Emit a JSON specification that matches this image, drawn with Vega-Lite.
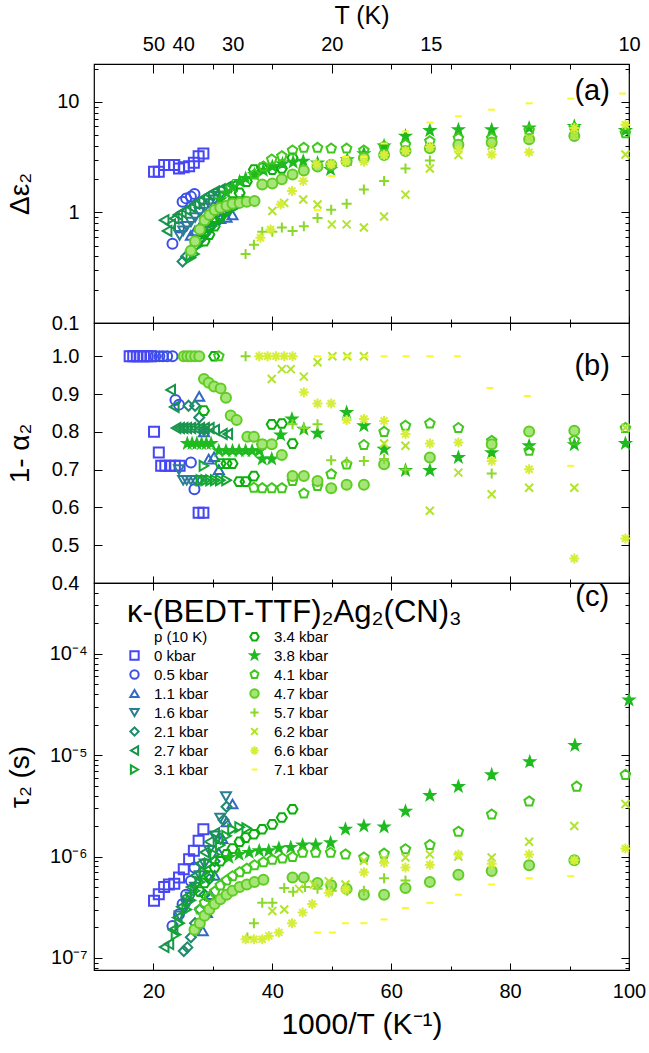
{
"$schema":"https://vega.github.io/schema/vega-lite/v6.json",
"background":"white",
"padding":{"left":5,"top":2,"right":5,"bottom":2},
"spacing":0,
"bounds":"flush",
"datasets":{
"lab":[{"g":"a","t":"(a)","x":93.8,"y":12.5},{"g":"b","t":"(b)","x":93.8,"y":0.975},{"g":"c","t":"(c)","x":93.8,"y":0.00036}],
"pts":[
{"g":"a","p":"0 kbar","x":20.1,"y":2.33},{"g":"a","p":"0 kbar","x":20.9,"y":2.33},{"g":"a","p":"0 kbar","x":21.8,"y":2.68},{"g":"a","p":"0 kbar","x":22.6,"y":2.68},{"g":"a","p":"0 kbar","x":23.5,"y":2.68},{"g":"a","p":"0 kbar","x":24.3,"y":2.5},{"g":"a","p":"0 kbar","x":25.1,"y":2.56},{"g":"a","p":"0 kbar","x":26.0,"y":2.62},{"g":"a","p":"0 kbar","x":26.8,"y":2.81},{"g":"a","p":"0 kbar","x":27.6,"y":3.23},{"g":"a","p":"0 kbar","x":28.4,"y":3.41},
{"g":"a","p":"0.5 kbar","x":23.2,"y":0.52},{"g":"a","p":"0.5 kbar","x":24.3,"y":0.73},{"g":"a","p":"0.5 kbar","x":24.9,"y":1.25},{"g":"a","p":"0.5 kbar","x":25.5,"y":1.34},{"g":"a","p":"0.5 kbar","x":26.3,"y":1.39},{"g":"a","p":"0.5 kbar","x":26.9,"y":1.47},
{"g":"a","p":"1.1 kbar","x":26.3,"y":0.62},{"g":"a","p":"1.1 kbar","x":27.0,"y":0.68},{"g":"a","p":"1.1 kbar","x":27.8,"y":0.74},{"g":"a","p":"1.1 kbar","x":28.6,"y":0.8},{"g":"a","p":"1.1 kbar","x":29.4,"y":0.83},{"g":"a","p":"1.1 kbar","x":30.3,"y":0.86},{"g":"a","p":"1.1 kbar","x":31.25,"y":0.88},{"g":"a","p":"1.1 kbar","x":32.3,"y":0.9},{"g":"a","p":"1.1 kbar","x":33.3,"y":0.95},
{"g":"a","p":"1.6 kbar","x":24.4,"y":0.62},{"g":"a","p":"1.6 kbar","x":25.0,"y":0.68},{"g":"a","p":"1.6 kbar","x":25.6,"y":0.75},{"g":"a","p":"1.6 kbar","x":26.3,"y":0.82},{"g":"a","p":"1.6 kbar","x":27.0,"y":0.9},{"g":"a","p":"1.6 kbar","x":27.8,"y":1.0},{"g":"a","p":"1.6 kbar","x":28.6,"y":1.1},{"g":"a","p":"1.6 kbar","x":29.4,"y":1.2},{"g":"a","p":"1.6 kbar","x":30.3,"y":1.3},{"g":"a","p":"1.6 kbar","x":31.25,"y":1.4},
{"g":"a","p":"2.1 kbar","x":24.9,"y":0.36},{"g":"a","p":"2.1 kbar","x":25.5,"y":0.4},{"g":"a","p":"2.1 kbar","x":26.3,"y":0.45},{"g":"a","p":"2.1 kbar","x":27.0,"y":0.5},{"g":"a","p":"2.1 kbar","x":27.8,"y":0.56},{"g":"a","p":"2.1 kbar","x":28.6,"y":0.63},{"g":"a","p":"2.1 kbar","x":29.4,"y":0.72},{"g":"a","p":"2.1 kbar","x":30.3,"y":0.82},{"g":"a","p":"2.1 kbar","x":31.25,"y":0.95},{"g":"a","p":"2.1 kbar","x":32.3,"y":1.1},
{"g":"a","p":"2.7 kbar","x":21.8,"y":0.85},{"g":"a","p":"2.7 kbar","x":22.3,"y":0.68},{"g":"a","p":"2.7 kbar","x":22.9,"y":0.78},{"g":"a","p":"2.7 kbar","x":23.5,"y":0.88},{"g":"a","p":"2.7 kbar","x":24.1,"y":0.95},{"g":"a","p":"2.7 kbar","x":24.7,"y":1.0},{"g":"a","p":"2.7 kbar","x":25.5,"y":1.05},{"g":"a","p":"2.7 kbar","x":26.3,"y":1.12},{"g":"a","p":"2.7 kbar","x":27.0,"y":1.2},{"g":"a","p":"2.7 kbar","x":27.8,"y":1.28},{"g":"a","p":"2.7 kbar","x":28.6,"y":1.37},{"g":"a","p":"2.7 kbar","x":29.4,"y":1.45},{"g":"a","p":"2.7 kbar","x":30.3,"y":1.55},{"g":"a","p":"2.7 kbar","x":31.25,"y":1.62},{"g":"a","p":"2.7 kbar","x":32.3,"y":1.7},{"g":"a","p":"2.7 kbar","x":33.3,"y":1.75},
{"g":"a","p":"3.1 kbar","x":26.3,"y":0.39},{"g":"a","p":"3.1 kbar","x":26.9,"y":0.42},{"g":"a","p":"3.1 kbar","x":27.5,"y":0.5},{"g":"a","p":"3.1 kbar","x":28.2,"y":0.58},{"g":"a","p":"3.1 kbar","x":29.0,"y":0.66},{"g":"a","p":"3.1 kbar","x":29.8,"y":0.75},{"g":"a","p":"3.1 kbar","x":30.6,"y":0.84},{"g":"a","p":"3.1 kbar","x":31.5,"y":0.92},{"g":"a","p":"3.1 kbar","x":32.3,"y":1.0},{"g":"a","p":"3.1 kbar","x":33.3,"y":1.08},{"g":"a","p":"3.1 kbar","x":34.5,"y":1.18},{"g":"a","p":"3.1 kbar","x":35.7,"y":1.28},
{"g":"a","p":"3.4 kbar","x":28.6,"y":0.55},{"g":"a","p":"3.4 kbar","x":29.4,"y":0.63},{"g":"a","p":"3.4 kbar","x":30.3,"y":0.75},{"g":"a","p":"3.4 kbar","x":31.25,"y":0.9},{"g":"a","p":"3.4 kbar","x":32.3,"y":1.05},{"g":"a","p":"3.4 kbar","x":33.3,"y":1.25},{"g":"a","p":"3.4 kbar","x":34.5,"y":1.5},{"g":"a","p":"3.4 kbar","x":35.7,"y":1.9},{"g":"a","p":"3.4 kbar","x":36.9,"y":2.44},{"g":"a","p":"3.4 kbar","x":38.3,"y":2.53},{"g":"a","p":"3.4 kbar","x":40.0,"y":2.44},{"g":"a","p":"3.4 kbar","x":41.6,"y":2.5},{"g":"a","p":"3.4 kbar","x":43.4,"y":3.12},
{"g":"a","p":"3.8 kbar","x":31.25,"y":1.3},{"g":"a","p":"3.8 kbar","x":32.3,"y":1.5},{"g":"a","p":"3.8 kbar","x":33.3,"y":1.7},{"g":"a","p":"3.8 kbar","x":34.5,"y":1.9},{"g":"a","p":"3.8 kbar","x":35.5,"y":2.03},{"g":"a","p":"3.8 kbar","x":37.0,"y":2.2},{"g":"a","p":"3.8 kbar","x":38.5,"y":2.4},{"g":"a","p":"3.8 kbar","x":40.0,"y":2.6},{"g":"a","p":"3.8 kbar","x":41.7,"y":2.75},{"g":"a","p":"3.8 kbar","x":43.5,"y":2.85},{"g":"a","p":"3.8 kbar","x":45.2,"y":2.91},{"g":"a","p":"3.8 kbar","x":47.6,"y":2.8},{"g":"a","p":"3.8 kbar","x":49.8,"y":2.44},{"g":"a","p":"3.8 kbar","x":52.6,"y":3.0},{"g":"a","p":"3.8 kbar","x":55.4,"y":3.4},{"g":"a","p":"3.8 kbar","x":58.8,"y":4.0},{"g":"a","p":"3.8 kbar","x":62.4,"y":4.9},{"g":"a","p":"3.8 kbar","x":66.5,"y":5.5},{"g":"a","p":"3.8 kbar","x":71.3,"y":5.6},{"g":"a","p":"3.8 kbar","x":76.9,"y":5.6},{"g":"a","p":"3.8 kbar","x":83.2,"y":5.8},{"g":"a","p":"3.8 kbar","x":90.8,"y":6.0},{"g":"a","p":"3.8 kbar","x":99.4,"y":5.5},
{"g":"a","p":"4.1 kbar","x":37.0,"y":2.2},{"g":"a","p":"4.1 kbar","x":38.5,"y":2.6},{"g":"a","p":"4.1 kbar","x":39.9,"y":3.01},{"g":"a","p":"4.1 kbar","x":41.6,"y":3.23},{"g":"a","p":"4.1 kbar","x":43.4,"y":3.63},{"g":"a","p":"4.1 kbar","x":45.3,"y":3.84},{"g":"a","p":"4.1 kbar","x":47.6,"y":3.84},{"g":"a","p":"4.1 kbar","x":49.9,"y":3.78},{"g":"a","p":"4.1 kbar","x":52.5,"y":3.78},{"g":"a","p":"4.1 kbar","x":55.4,"y":3.63},{"g":"a","p":"4.1 kbar","x":58.8,"y":3.97},{"g":"a","p":"4.1 kbar","x":62.4,"y":4.1},{"g":"a","p":"4.1 kbar","x":66.5,"y":4.4},{"g":"a","p":"4.1 kbar","x":71.3,"y":4.7},{"g":"a","p":"4.1 kbar","x":76.9,"y":4.7},{"g":"a","p":"4.1 kbar","x":83.2,"y":5.5},{"g":"a","p":"4.1 kbar","x":90.8,"y":5.8},{"g":"a","p":"4.1 kbar","x":99.4,"y":5.2},
{"g":"a","p":"4.7 kbar","x":26.3,"y":0.45},{"g":"a","p":"4.7 kbar","x":27.0,"y":0.55},{"g":"a","p":"4.7 kbar","x":27.8,"y":0.7},{"g":"a","p":"4.7 kbar","x":28.6,"y":0.85},{"g":"a","p":"4.7 kbar","x":29.4,"y":0.95},{"g":"a","p":"4.7 kbar","x":30.3,"y":1.05},{"g":"a","p":"4.7 kbar","x":31.25,"y":1.1},{"g":"a","p":"4.7 kbar","x":32.3,"y":1.15},{"g":"a","p":"4.7 kbar","x":33.3,"y":1.2},{"g":"a","p":"4.7 kbar","x":34.5,"y":1.22},{"g":"a","p":"4.7 kbar","x":35.7,"y":1.25},{"g":"a","p":"4.7 kbar","x":37.0,"y":1.27},{"g":"a","p":"4.7 kbar","x":38.3,"y":1.79},{"g":"a","p":"4.7 kbar","x":40.0,"y":1.83},{"g":"a","p":"4.7 kbar","x":41.6,"y":2.0},{"g":"a","p":"4.7 kbar","x":43.4,"y":2.2},{"g":"a","p":"4.7 kbar","x":45.3,"y":2.4},{"g":"a","p":"4.7 kbar","x":47.6,"y":2.6},{"g":"a","p":"4.7 kbar","x":49.9,"y":2.7},{"g":"a","p":"4.7 kbar","x":52.5,"y":2.9},{"g":"a","p":"4.7 kbar","x":55.4,"y":3.1},{"g":"a","p":"4.7 kbar","x":58.8,"y":3.3},{"g":"a","p":"4.7 kbar","x":62.4,"y":3.6},{"g":"a","p":"4.7 kbar","x":66.5,"y":3.8},{"g":"a","p":"4.7 kbar","x":71.3,"y":4.1},{"g":"a","p":"4.7 kbar","x":76.9,"y":4.3},{"g":"a","p":"4.7 kbar","x":83.2,"y":4.6},{"g":"a","p":"4.7 kbar","x":90.8,"y":4.9},
{"g":"a","p":"5.7 kbar","x":35.5,"y":0.42},{"g":"a","p":"5.7 kbar","x":36.9,"y":0.51},{"g":"a","p":"5.7 kbar","x":38.3,"y":0.67},{"g":"a","p":"5.7 kbar","x":40.0,"y":0.67},{"g":"a","p":"5.7 kbar","x":41.6,"y":0.73},{"g":"a","p":"5.7 kbar","x":43.4,"y":0.68},{"g":"a","p":"5.7 kbar","x":45.3,"y":0.75},{"g":"a","p":"5.7 kbar","x":47.6,"y":0.89},{"g":"a","p":"5.7 kbar","x":49.9,"y":1.06},{"g":"a","p":"5.7 kbar","x":52.5,"y":1.2},{"g":"a","p":"5.7 kbar","x":55.4,"y":1.61},{"g":"a","p":"5.7 kbar","x":58.8,"y":1.92},{"g":"a","p":"5.7 kbar","x":62.4,"y":2.5},{"g":"a","p":"5.7 kbar","x":66.5,"y":2.95},
{"g":"a","p":"6.2 kbar","x":40.0,"y":1.03},{"g":"a","p":"6.2 kbar","x":42.0,"y":1.22},{"g":"a","p":"6.2 kbar","x":45.2,"y":1.31},{"g":"a","p":"6.2 kbar","x":47.6,"y":1.18},{"g":"a","p":"6.2 kbar","x":50.0,"y":0.78},{"g":"a","p":"6.2 kbar","x":52.5,"y":0.78},{"g":"a","p":"6.2 kbar","x":55.4,"y":0.73},{"g":"a","p":"6.2 kbar","x":58.8,"y":0.92},{"g":"a","p":"6.2 kbar","x":62.4,"y":1.45},{"g":"a","p":"6.2 kbar","x":66.5,"y":2.5},{"g":"a","p":"6.2 kbar","x":71.3,"y":3.3},{"g":"a","p":"6.2 kbar","x":76.9,"y":4.0},{"g":"a","p":"6.2 kbar","x":83.2,"y":4.7},{"g":"a","p":"6.2 kbar","x":90.8,"y":5.0},{"g":"a","p":"6.2 kbar","x":99.4,"y":3.34},
{"g":"a","p":"6.6 kbar","x":38.0,"y":0.59},{"g":"a","p":"6.6 kbar","x":39.7,"y":0.7},{"g":"a","p":"6.6 kbar","x":41.4,"y":1.18},{"g":"a","p":"6.6 kbar","x":43.3,"y":1.56},{"g":"a","p":"6.6 kbar","x":45.2,"y":1.92},{"g":"a","p":"6.6 kbar","x":47.4,"y":2.75},{"g":"a","p":"6.6 kbar","x":49.9,"y":2.75},{"g":"a","p":"6.6 kbar","x":52.3,"y":2.87},{"g":"a","p":"6.6 kbar","x":55.4,"y":2.87},{"g":"a","p":"6.6 kbar","x":58.8,"y":3.3},{"g":"a","p":"6.6 kbar","x":62.4,"y":3.6},{"g":"a","p":"6.6 kbar","x":66.5,"y":3.9},{"g":"a","p":"6.6 kbar","x":71.3,"y":3.7},{"g":"a","p":"6.6 kbar","x":76.9,"y":3.34},{"g":"a","p":"6.6 kbar","x":83.2,"y":3.5},{"g":"a","p":"6.6 kbar","x":90.8,"y":5.8},{"g":"a","p":"6.6 kbar","x":99.4,"y":6.2},
{"g":"a","p":"7.1 kbar","x":47.6,"y":1.05},{"g":"a","p":"7.1 kbar","x":50.0,"y":2.13},{"g":"a","p":"7.1 kbar","x":52.3,"y":3.18},{"g":"a","p":"7.1 kbar","x":55.4,"y":3.18},{"g":"a","p":"7.1 kbar","x":58.8,"y":4.2},{"g":"a","p":"7.1 kbar","x":62.4,"y":5.4},{"g":"a","p":"7.1 kbar","x":66.5,"y":6.5},{"g":"a","p":"7.1 kbar","x":71.3,"y":7.4},{"g":"a","p":"7.1 kbar","x":76.9,"y":8.5},{"g":"a","p":"7.1 kbar","x":83.2,"y":9.7},{"g":"a","p":"7.1 kbar","x":90.2,"y":10.7},{"g":"a","p":"7.1 kbar","x":98.9,"y":11.9},

{"g":"b","p":"0 kbar","x":16.0,"y":1},{"g":"b","p":"0 kbar","x":16.6,"y":1},{"g":"b","p":"0 kbar","x":17.2,"y":1},{"g":"b","p":"0 kbar","x":17.8,"y":1},{"g":"b","p":"0 kbar","x":18.4,"y":1},{"g":"b","p":"0 kbar","x":19.0,"y":1},{"g":"b","p":"0 kbar","x":19.6,"y":1},{"g":"b","p":"0 kbar","x":20.1,"y":0.8},{"g":"b","p":"0 kbar","x":20.9,"y":0.745},{"g":"b","p":"0 kbar","x":21.3,"y":0.71},{"g":"b","p":"0 kbar","x":22.0,"y":0.71},{"g":"b","p":"0 kbar","x":22.8,"y":0.71},{"g":"b","p":"0 kbar","x":23.6,"y":0.71},{"g":"b","p":"0 kbar","x":24.4,"y":0.71},{"g":"b","p":"0 kbar","x":27.6,"y":0.586},{"g":"b","p":"0 kbar","x":28.4,"y":0.586},
{"g":"b","p":"0.5 kbar","x":20.3,"y":1},{"g":"b","p":"0.5 kbar","x":21.0,"y":1},{"g":"b","p":"0.5 kbar","x":21.6,"y":1},{"g":"b","p":"0.5 kbar","x":22.3,"y":1},{"g":"b","p":"0.5 kbar","x":23.2,"y":1},{"g":"b","p":"0.5 kbar","x":23.7,"y":0.884},{"g":"b","p":"0.5 kbar","x":24.3,"y":0.872},{"g":"b","p":"0.5 kbar","x":26.3,"y":0.719},{"g":"b","p":"0.5 kbar","x":26.9,"y":0.648},
{"g":"b","p":"1.1 kbar","x":27.7,"y":0.894},{"g":"b","p":"1.1 kbar","x":28.5,"y":0.8},{"g":"b","p":"1.1 kbar","x":29.3,"y":0.728},{"g":"b","p":"1.1 kbar","x":30.2,"y":0.734},{"g":"b","p":"1.1 kbar","x":31.0,"y":0.7},
{"g":"b","p":"1.6 kbar","x":24.3,"y":0.7},{"g":"b","p":"1.6 kbar","x":25.0,"y":0.672},{"g":"b","p":"1.6 kbar","x":25.6,"y":0.672},{"g":"b","p":"1.6 kbar","x":26.3,"y":0.672},{"g":"b","p":"1.6 kbar","x":27.0,"y":0.672},{"g":"b","p":"1.6 kbar","x":27.8,"y":0.672},
{"g":"b","p":"2.1 kbar","x":25.9,"y":0.869},{"g":"b","p":"2.1 kbar","x":27.0,"y":0.869},{"g":"b","p":"2.1 kbar","x":27.7,"y":0.838},{"g":"b","p":"2.1 kbar","x":28.5,"y":0.805},
{"g":"b","p":"2.7 kbar","x":22.9,"y":0.911},{"g":"b","p":"2.7 kbar","x":23.5,"y":0.866},{"g":"b","p":"2.7 kbar","x":23.8,"y":0.81},{"g":"b","p":"2.7 kbar","x":24.4,"y":0.81},{"g":"b","p":"2.7 kbar","x":25.0,"y":0.81},{"g":"b","p":"2.7 kbar","x":25.6,"y":0.81},{"g":"b","p":"2.7 kbar","x":26.3,"y":0.81},{"g":"b","p":"2.7 kbar","x":27.0,"y":0.81},{"g":"b","p":"2.7 kbar","x":27.8,"y":0.81},{"g":"b","p":"2.7 kbar","x":28.6,"y":0.81},{"g":"b","p":"2.7 kbar","x":29.4,"y":0.81},{"g":"b","p":"2.7 kbar","x":30.3,"y":0.805},{"g":"b","p":"2.7 kbar","x":31.6,"y":0.794},{"g":"b","p":"2.7 kbar","x":32.5,"y":0.794},
{"g":"b","p":"3.1 kbar","x":28.5,"y":0.71},{"g":"b","p":"3.1 kbar","x":28.0,"y":0.672},{"g":"b","p":"3.1 kbar","x":28.8,"y":0.672},{"g":"b","p":"3.1 kbar","x":29.6,"y":0.672},{"g":"b","p":"3.1 kbar","x":30.4,"y":0.672},{"g":"b","p":"3.1 kbar","x":31.25,"y":0.672},{"g":"b","p":"3.1 kbar","x":32.3,"y":0.672},
{"g":"b","p":"3.4 kbar","x":28.5,"y":0.856},{"g":"b","p":"3.4 kbar","x":30.2,"y":1},{"g":"b","p":"3.4 kbar","x":31.3,"y":0.716},{"g":"b","p":"3.4 kbar","x":32.3,"y":0.716},{"g":"b","p":"3.4 kbar","x":33.3,"y":0.716},{"g":"b","p":"3.4 kbar","x":34.4,"y":0.668},{"g":"b","p":"3.4 kbar","x":35.5,"y":0.668},{"g":"b","p":"3.4 kbar","x":36.9,"y":0.683},{"g":"b","p":"3.4 kbar","x":38.3,"y":0.767},{"g":"b","p":"3.4 kbar","x":39.9,"y":0.82},{"g":"b","p":"3.4 kbar","x":41.6,"y":0.822},{"g":"b","p":"3.4 kbar","x":43.4,"y":0.769},
{"g":"b","p":"3.8 kbar","x":25.7,"y":0.769},{"g":"b","p":"3.8 kbar","x":26.5,"y":0.769},{"g":"b","p":"3.8 kbar","x":27.3,"y":0.769},{"g":"b","p":"3.8 kbar","x":28.1,"y":0.769},{"g":"b","p":"3.8 kbar","x":28.9,"y":0.769},{"g":"b","p":"3.8 kbar","x":29.7,"y":0.769},{"g":"b","p":"3.8 kbar","x":31.0,"y":0.75},{"g":"b","p":"3.8 kbar","x":32.2,"y":0.75},{"g":"b","p":"3.8 kbar","x":33.3,"y":0.75},{"g":"b","p":"3.8 kbar","x":34.4,"y":0.75},{"g":"b","p":"3.8 kbar","x":35.5,"y":0.75},{"g":"b","p":"3.8 kbar","x":36.6,"y":0.75},{"g":"b","p":"3.8 kbar","x":37.8,"y":0.75},{"g":"b","p":"3.8 kbar","x":38.3,"y":0.728},{"g":"b","p":"3.8 kbar","x":39.9,"y":0.728},{"g":"b","p":"3.8 kbar","x":41.4,"y":0.792},{"g":"b","p":"3.8 kbar","x":43.3,"y":0.834},{"g":"b","p":"3.8 kbar","x":45.3,"y":0.807},{"g":"b","p":"3.8 kbar","x":47.6,"y":0.796},{"g":"b","p":"3.8 kbar","x":52.5,"y":0.851},{"g":"b","p":"3.8 kbar","x":55.4,"y":0.816},{"g":"b","p":"3.8 kbar","x":58.8,"y":0.754},{"g":"b","p":"3.8 kbar","x":62.4,"y":0.698},{"g":"b","p":"3.8 kbar","x":66.5,"y":0.698},{"g":"b","p":"3.8 kbar","x":71.3,"y":0.732},{"g":"b","p":"3.8 kbar","x":76.9,"y":0.745},{"g":"b","p":"3.8 kbar","x":83.2,"y":0.763},{"g":"b","p":"3.8 kbar","x":90.8,"y":0.766},{"g":"b","p":"3.8 kbar","x":99.4,"y":0.769},
{"g":"b","p":"4.1 kbar","x":31.0,"y":1},{"g":"b","p":"4.1 kbar","x":36.9,"y":0.652},{"g":"b","p":"4.1 kbar","x":38.3,"y":0.651},{"g":"b","p":"4.1 kbar","x":39.9,"y":0.651},{"g":"b","p":"4.1 kbar","x":41.6,"y":0.651},{"g":"b","p":"4.1 kbar","x":43.4,"y":0.67},{"g":"b","p":"4.1 kbar","x":45.3,"y":0.637},{"g":"b","p":"4.1 kbar","x":47.6,"y":0.657},{"g":"b","p":"4.1 kbar","x":49.9,"y":0.688},{"g":"b","p":"4.1 kbar","x":52.5,"y":0.714},{"g":"b","p":"4.1 kbar","x":55.4,"y":0.765},{"g":"b","p":"4.1 kbar","x":58.8,"y":0.8},{"g":"b","p":"4.1 kbar","x":62.4,"y":0.816},{"g":"b","p":"4.1 kbar","x":66.5,"y":0.822},{"g":"b","p":"4.1 kbar","x":71.3,"y":0.81},{"g":"b","p":"4.1 kbar","x":76.9,"y":0.776},{"g":"b","p":"4.1 kbar","x":83.2,"y":0.75},{"g":"b","p":"4.1 kbar","x":90.8,"y":0.778},{"g":"b","p":"4.1 kbar","x":99.4,"y":0.81},
{"g":"b","p":"4.7 kbar","x":25.1,"y":1},{"g":"b","p":"4.7 kbar","x":25.7,"y":1},{"g":"b","p":"4.7 kbar","x":26.3,"y":1},{"g":"b","p":"4.7 kbar","x":27.0,"y":1},{"g":"b","p":"4.7 kbar","x":27.7,"y":1},{"g":"b","p":"4.7 kbar","x":28.5,"y":0.94},{"g":"b","p":"4.7 kbar","x":29.3,"y":0.93},{"g":"b","p":"4.7 kbar","x":30.2,"y":0.92},{"g":"b","p":"4.7 kbar","x":31.3,"y":0.915},{"g":"b","p":"4.7 kbar","x":32.2,"y":0.89},{"g":"b","p":"4.7 kbar","x":33.0,"y":0.843},{"g":"b","p":"4.7 kbar","x":34.0,"y":0.831},{"g":"b","p":"4.7 kbar","x":35.8,"y":0.787},{"g":"b","p":"4.7 kbar","x":36.9,"y":0.787},{"g":"b","p":"4.7 kbar","x":38.3,"y":0.767},{"g":"b","p":"4.7 kbar","x":39.9,"y":0.767},{"g":"b","p":"4.7 kbar","x":41.6,"y":0.739},{"g":"b","p":"4.7 kbar","x":43.4,"y":0.683},{"g":"b","p":"4.7 kbar","x":45.3,"y":0.683},{"g":"b","p":"4.7 kbar","x":47.6,"y":0.67},{"g":"b","p":"4.7 kbar","x":49.9,"y":0.651},{"g":"b","p":"4.7 kbar","x":52.5,"y":0.66},{"g":"b","p":"4.7 kbar","x":55.4,"y":0.66},{"g":"b","p":"4.7 kbar","x":58.8,"y":0.714},{"g":"b","p":"4.7 kbar","x":66.5,"y":0.732},{"g":"b","p":"4.7 kbar","x":76.9,"y":0.767},{"g":"b","p":"4.7 kbar","x":83.2,"y":0.801},{"g":"b","p":"4.7 kbar","x":90.8,"y":0.803},
{"g":"b","p":"5.7 kbar","x":35.5,"y":1},{"g":"b","p":"5.7 kbar","x":43.4,"y":0.82},{"g":"b","p":"5.7 kbar","x":45.3,"y":0.81},{"g":"b","p":"5.7 kbar","x":47.6,"y":0.82},{"g":"b","p":"5.7 kbar","x":49.9,"y":0.725},{"g":"b","p":"5.7 kbar","x":52.5,"y":0.721},{"g":"b","p":"5.7 kbar","x":55.4,"y":0.723},{"g":"b","p":"5.7 kbar","x":58.8,"y":0.728},{"g":"b","p":"5.7 kbar","x":62.4,"y":0.7},{"g":"b","p":"5.7 kbar","x":76.9,"y":0.69},
{"g":"b","p":"6.2 kbar","x":39.9,"y":0.94},{"g":"b","p":"6.2 kbar","x":41.6,"y":0.966},{"g":"b","p":"6.2 kbar","x":43.1,"y":0.966},{"g":"b","p":"6.2 kbar","x":45.3,"y":0.946},{"g":"b","p":"6.2 kbar","x":47.6,"y":0.984},{"g":"b","p":"6.2 kbar","x":50.1,"y":1},{"g":"b","p":"6.2 kbar","x":52.6,"y":1},{"g":"b","p":"6.2 kbar","x":55.4,"y":1},{"g":"b","p":"6.2 kbar","x":58.8,"y":0.769},{"g":"b","p":"6.2 kbar","x":62.4,"y":0.763},{"g":"b","p":"6.2 kbar","x":66.5,"y":0.591},{"g":"b","p":"6.2 kbar","x":71.3,"y":0.692},{"g":"b","p":"6.2 kbar","x":76.9,"y":0.635},{"g":"b","p":"6.2 kbar","x":83.2,"y":0.652},{"g":"b","p":"6.2 kbar","x":90.8,"y":0.652},{"g":"b","p":"6.2 kbar","x":99.4,"y":0.811},
{"g":"b","p":"6.6 kbar","x":37.8,"y":1},{"g":"b","p":"6.6 kbar","x":39.2,"y":1},{"g":"b","p":"6.6 kbar","x":40.6,"y":1},{"g":"b","p":"6.6 kbar","x":42.0,"y":1},{"g":"b","p":"6.6 kbar","x":43.4,"y":1},{"g":"b","p":"6.6 kbar","x":45.3,"y":0.905},{"g":"b","p":"6.6 kbar","x":47.6,"y":0.875},{"g":"b","p":"6.6 kbar","x":49.9,"y":0.875},{"g":"b","p":"6.6 kbar","x":52.5,"y":0.831},{"g":"b","p":"6.6 kbar","x":55.4,"y":0.834},{"g":"b","p":"6.6 kbar","x":58.8,"y":0.829},{"g":"b","p":"6.6 kbar","x":62.4,"y":0.794},{"g":"b","p":"6.6 kbar","x":66.5,"y":0.769},{"g":"b","p":"6.6 kbar","x":71.3,"y":0.772},{"g":"b","p":"6.6 kbar","x":76.9,"y":0.723},{"g":"b","p":"6.6 kbar","x":83.2,"y":0.701},{"g":"b","p":"6.6 kbar","x":90.8,"y":0.465},{"g":"b","p":"6.6 kbar","x":99.4,"y":0.518},
{"g":"b","p":"7.1 kbar","x":47.6,"y":1},{"g":"b","p":"7.1 kbar","x":50.0,"y":1},{"g":"b","p":"7.1 kbar","x":52.6,"y":1},{"g":"b","p":"7.1 kbar","x":55.6,"y":1},{"g":"b","p":"7.1 kbar","x":58.8,"y":1},{"g":"b","p":"7.1 kbar","x":62.5,"y":1},{"g":"b","p":"7.1 kbar","x":66.5,"y":1},{"g":"b","p":"7.1 kbar","x":71.1,"y":1},{"g":"b","p":"7.1 kbar","x":76.6,"y":0.916},{"g":"b","p":"7.1 kbar","x":82.9,"y":0.895},{"g":"b","p":"7.1 kbar","x":90.2,"y":0.71},

{"g":"c","p":"0 kbar","x":20.1,"y":3.66e-7},{"g":"c","p":"0 kbar","x":20.9,"y":4.25e-7},{"g":"c","p":"0 kbar","x":21.8,"y":5.0e-7},{"g":"c","p":"0 kbar","x":22.6,"y":5.3e-7},{"g":"c","p":"0 kbar","x":23.5,"y":5.4e-7},{"g":"c","p":"0 kbar","x":24.3,"y":6.2e-7},{"g":"c","p":"0 kbar","x":25.1,"y":7.5e-7},{"g":"c","p":"0 kbar","x":26.0,"y":9.4e-7},{"g":"c","p":"0 kbar","x":26.8,"y":1.14e-6},{"g":"c","p":"0 kbar","x":27.6,"y":1.43e-6},{"g":"c","p":"0 kbar","x":28.4,"y":1.86e-6},
{"g":"c","p":"0.5 kbar","x":23.2,"y":2.07e-7},{"g":"c","p":"0.5 kbar","x":24.3,"y":2.7e-7},{"g":"c","p":"0.5 kbar","x":24.9,"y":3.4e-7},{"g":"c","p":"0.5 kbar","x":25.5,"y":4.2e-7},{"g":"c","p":"0.5 kbar","x":26.3,"y":5.75e-7},{"g":"c","p":"0.5 kbar","x":26.9,"y":7.8e-7},
{"g":"c","p":"1.1 kbar","x":28.3,"y":1.85e-7},{"g":"c","p":"1.1 kbar","x":29.0,"y":2.8e-7},{"g":"c","p":"1.1 kbar","x":29.6,"y":4.2e-7},{"g":"c","p":"1.1 kbar","x":30.3,"y":6.5e-7},{"g":"c","p":"1.1 kbar","x":31.0,"y":1.09e-6},{"g":"c","p":"1.1 kbar","x":31.6,"y":1.5e-6},{"g":"c","p":"1.1 kbar","x":32.3,"y":2.2e-6},{"g":"c","p":"1.1 kbar","x":33.3,"y":3.3e-6},
{"g":"c","p":"1.6 kbar","x":24.4,"y":2.6e-7},{"g":"c","p":"1.6 kbar","x":25.6,"y":3.3e-7},{"g":"c","p":"1.6 kbar","x":26.3,"y":4.0e-7},{"g":"c","p":"1.6 kbar","x":27.0,"y":5.0e-7},{"g":"c","p":"1.6 kbar","x":27.8,"y":6.5e-7},{"g":"c","p":"1.6 kbar","x":28.6,"y":8.5e-7},{"g":"c","p":"1.6 kbar","x":29.4,"y":1.15e-6},{"g":"c","p":"1.6 kbar","x":30.3,"y":1.6e-6},{"g":"c","p":"1.6 kbar","x":31.25,"y":2.4e-6},{"g":"c","p":"1.6 kbar","x":32.2,"y":3.9e-6},
{"g":"c","p":"2.1 kbar","x":25.1,"y":1.17e-7},{"g":"c","p":"2.1 kbar","x":25.7,"y":1.27e-7},{"g":"c","p":"2.1 kbar","x":26.3,"y":1.6e-7},{"g":"c","p":"2.1 kbar","x":27.0,"y":2.2e-7},{"g":"c","p":"2.1 kbar","x":27.8,"y":3.0e-7},{"g":"c","p":"2.1 kbar","x":28.6,"y":4.2e-7},{"g":"c","p":"2.1 kbar","x":29.4,"y":6.0e-7},{"g":"c","p":"2.1 kbar","x":30.3,"y":9.0e-7},{"g":"c","p":"2.1 kbar","x":31.25,"y":1.5e-6},{"g":"c","p":"2.1 kbar","x":31.8,"y":2.3e-6},{"g":"c","p":"2.1 kbar","x":32.3,"y":3.1e-6},
{"g":"c","p":"2.7 kbar","x":21.8,"y":1.28e-7},{"g":"c","p":"2.7 kbar","x":22.6,"y":1.37e-7},{"g":"c","p":"2.7 kbar","x":23.3,"y":1.9e-7},{"g":"c","p":"2.7 kbar","x":24.0,"y":2.5e-7},{"g":"c","p":"2.7 kbar","x":24.7,"y":3.2e-7},{"g":"c","p":"2.7 kbar","x":25.5,"y":4.0e-7},{"g":"c","p":"2.7 kbar","x":26.3,"y":5.0e-7},{"g":"c","p":"2.7 kbar","x":27.0,"y":6.5e-7},{"g":"c","p":"2.7 kbar","x":27.8,"y":8.5e-7},{"g":"c","p":"2.7 kbar","x":28.6,"y":1.1e-6},{"g":"c","p":"2.7 kbar","x":29.4,"y":1.4e-6},{"g":"c","p":"2.7 kbar","x":30.3,"y":1.7e-6},
{"g":"c","p":"3.1 kbar","x":23.8,"y":1.7e-7},{"g":"c","p":"3.1 kbar","x":24.4,"y":2.2e-7},{"g":"c","p":"3.1 kbar","x":25.6,"y":3.0e-7},{"g":"c","p":"3.1 kbar","x":26.3,"y":3.7e-7},{"g":"c","p":"3.1 kbar","x":27.0,"y":4.6e-7},{"g":"c","p":"3.1 kbar","x":27.8,"y":5.6e-7},{"g":"c","p":"3.1 kbar","x":28.6,"y":7.0e-7},{"g":"c","p":"3.1 kbar","x":29.4,"y":8.5e-7},{"g":"c","p":"3.1 kbar","x":30.3,"y":1.05e-6},{"g":"c","p":"3.1 kbar","x":31.25,"y":1.3e-6},{"g":"c","p":"3.1 kbar","x":32.3,"y":1.6e-6},{"g":"c","p":"3.1 kbar","x":33.3,"y":1.85e-6},{"g":"c","p":"3.1 kbar","x":34.5,"y":1.95e-6},{"g":"c","p":"3.1 kbar","x":35.7,"y":1.9e-6},
{"g":"c","p":"3.4 kbar","x":27.8,"y":4.5e-7},{"g":"c","p":"3.4 kbar","x":28.6,"y":5.5e-7},{"g":"c","p":"3.4 kbar","x":29.4,"y":6.5e-7},{"g":"c","p":"3.4 kbar","x":30.3,"y":7.8e-7},{"g":"c","p":"3.4 kbar","x":31.25,"y":9.0e-7},{"g":"c","p":"3.4 kbar","x":32.3,"y":1.05e-6},{"g":"c","p":"3.4 kbar","x":33.3,"y":1.2e-6},{"g":"c","p":"3.4 kbar","x":34.5,"y":1.4e-6},{"g":"c","p":"3.4 kbar","x":35.5,"y":1.54e-6},{"g":"c","p":"3.4 kbar","x":36.9,"y":1.66e-6},{"g":"c","p":"3.4 kbar","x":38.3,"y":1.86e-6},{"g":"c","p":"3.4 kbar","x":40.0,"y":2.08e-6},{"g":"c","p":"3.4 kbar","x":41.6,"y":2.43e-6},{"g":"c","p":"3.4 kbar","x":43.4,"y":2.93e-6},
{"g":"c","p":"3.8 kbar","x":32.7,"y":9.8e-7},{"g":"c","p":"3.8 kbar","x":34.4,"y":1.05e-6},{"g":"c","p":"3.8 kbar","x":36.1,"y":1.1e-6},{"g":"c","p":"3.8 kbar","x":37.8,"y":1.14e-6},{"g":"c","p":"3.8 kbar","x":39.4,"y":1.14e-6},{"g":"c","p":"3.8 kbar","x":41.1,"y":1.21e-6},{"g":"c","p":"3.8 kbar","x":43.1,"y":1.23e-6},{"g":"c","p":"3.8 kbar","x":45.1,"y":1.3e-6},{"g":"c","p":"3.8 kbar","x":47.3,"y":1.3e-6},{"g":"c","p":"3.8 kbar","x":49.8,"y":1.37e-6},{"g":"c","p":"3.8 kbar","x":52.3,"y":1.86e-6},{"g":"c","p":"3.8 kbar","x":55.4,"y":2.0e-6},{"g":"c","p":"3.8 kbar","x":58.8,"y":1.96e-6},{"g":"c","p":"3.8 kbar","x":62.4,"y":2.8e-6},{"g":"c","p":"3.8 kbar","x":66.5,"y":4.0e-6},{"g":"c","p":"3.8 kbar","x":71.3,"y":4.9e-6},{"g":"c","p":"3.8 kbar","x":76.9,"y":6.4e-6},{"g":"c","p":"3.8 kbar","x":83.3,"y":8.6e-6},{"g":"c","p":"3.8 kbar","x":90.9,"y":1.25e-5},{"g":"c","p":"3.8 kbar","x":100,"y":3.5e-5},
{"g":"c","p":"4.1 kbar","x":27.8,"y":3.0e-7},{"g":"c","p":"4.1 kbar","x":28.6,"y":3.5e-7},{"g":"c","p":"4.1 kbar","x":29.4,"y":4.0e-7},{"g":"c","p":"4.1 kbar","x":30.3,"y":4.5e-7},{"g":"c","p":"4.1 kbar","x":31.25,"y":5.2e-7},{"g":"c","p":"4.1 kbar","x":32.3,"y":5.8e-7},{"g":"c","p":"4.1 kbar","x":33.3,"y":6.4e-7},{"g":"c","p":"4.1 kbar","x":34.5,"y":7.0e-7},{"g":"c","p":"4.1 kbar","x":35.7,"y":7.6e-7},{"g":"c","p":"4.1 kbar","x":37.0,"y":8.2e-7},{"g":"c","p":"4.1 kbar","x":38.5,"y":8.8e-7},{"g":"c","p":"4.1 kbar","x":40.0,"y":9.3e-7},{"g":"c","p":"4.1 kbar","x":41.7,"y":9.6e-7},{"g":"c","p":"4.1 kbar","x":43.4,"y":9.9e-7},{"g":"c","p":"4.1 kbar","x":45.1,"y":1.09e-6},{"g":"c","p":"4.1 kbar","x":47.3,"y":1.09e-6},{"g":"c","p":"4.1 kbar","x":49.8,"y":1.09e-6},{"g":"c","p":"4.1 kbar","x":52.3,"y":1.05e-6},{"g":"c","p":"4.1 kbar","x":55.4,"y":9.8e-7},{"g":"c","p":"4.1 kbar","x":58.8,"y":1.07e-6},{"g":"c","p":"4.1 kbar","x":62.4,"y":1.18e-6},{"g":"c","p":"4.1 kbar","x":66.5,"y":1.3e-6},{"g":"c","p":"4.1 kbar","x":71.3,"y":1.76e-6},{"g":"c","p":"4.1 kbar","x":76.9,"y":2.6e-6},{"g":"c","p":"4.1 kbar","x":83.2,"y":3.5e-6},{"g":"c","p":"4.1 kbar","x":91.2,"y":4.9e-6},{"g":"c","p":"4.1 kbar","x":99.4,"y":6.4e-6},
{"g":"c","p":"4.7 kbar","x":26.9,"y":1.9e-7},{"g":"c","p":"4.7 kbar","x":27.8,"y":2.2e-7},{"g":"c","p":"4.7 kbar","x":28.6,"y":2.6e-7},{"g":"c","p":"4.7 kbar","x":29.4,"y":3.0e-7},{"g":"c","p":"4.7 kbar","x":30.3,"y":3.4e-7},{"g":"c","p":"4.7 kbar","x":31.25,"y":3.8e-7},{"g":"c","p":"4.7 kbar","x":32.3,"y":4.2e-7},{"g":"c","p":"4.7 kbar","x":33.3,"y":4.6e-7},{"g":"c","p":"4.7 kbar","x":34.5,"y":5.0e-7},{"g":"c","p":"4.7 kbar","x":35.7,"y":5.3e-7},{"g":"c","p":"4.7 kbar","x":37.0,"y":5.6e-7},{"g":"c","p":"4.7 kbar","x":38.5,"y":5.9e-7},{"g":"c","p":"4.7 kbar","x":43.4,"y":6.2e-7},{"g":"c","p":"4.7 kbar","x":45.3,"y":6.2e-7},{"g":"c","p":"4.7 kbar","x":47.6,"y":5.5e-7},{"g":"c","p":"4.7 kbar","x":49.9,"y":5.2e-7},{"g":"c","p":"4.7 kbar","x":52.5,"y":4.8e-7},{"g":"c","p":"4.7 kbar","x":55.4,"y":4.2e-7},{"g":"c","p":"4.7 kbar","x":58.8,"y":4.2e-7},{"g":"c","p":"4.7 kbar","x":62.4,"y":4.9e-7},{"g":"c","p":"4.7 kbar","x":66.5,"y":5.6e-7},{"g":"c","p":"4.7 kbar","x":71.3,"y":6.6e-7},{"g":"c","p":"4.7 kbar","x":76.9,"y":7.2e-7},{"g":"c","p":"4.7 kbar","x":83.2,"y":8.2e-7},{"g":"c","p":"4.7 kbar","x":90.8,"y":9.2e-7},
{"g":"c","p":"5.7 kbar","x":35.8,"y":1.59e-7},{"g":"c","p":"5.7 kbar","x":36.9,"y":2.2e-7},{"g":"c","p":"5.7 kbar","x":38.3,"y":3.5e-7},{"g":"c","p":"5.7 kbar","x":40.0,"y":3.5e-7},{"g":"c","p":"5.7 kbar","x":42.0,"y":4.9e-7},{"g":"c","p":"5.7 kbar","x":43.5,"y":4.5e-7},{"g":"c","p":"5.7 kbar","x":45.5,"y":5.0e-7},{"g":"c","p":"5.7 kbar","x":47.6,"y":4.8e-7},{"g":"c","p":"5.7 kbar","x":50.0,"y":4.6e-7},{"g":"c","p":"5.7 kbar","x":52.6,"y":4.6e-7},{"g":"c","p":"5.7 kbar","x":55.4,"y":4.6e-7},{"g":"c","p":"5.7 kbar","x":58.8,"y":6.1e-7},{"g":"c","p":"5.7 kbar","x":62.4,"y":5.8e-7},
{"g":"c","p":"6.2 kbar","x":40.0,"y":2.9e-7},{"g":"c","p":"6.2 kbar","x":42.0,"y":3.0e-7},{"g":"c","p":"6.2 kbar","x":44.5,"y":4.8e-7},{"g":"c","p":"6.2 kbar","x":47.0,"y":5.3e-7},{"g":"c","p":"6.2 kbar","x":49.5,"y":5.7e-7},{"g":"c","p":"6.2 kbar","x":52.3,"y":5.3e-7},{"g":"c","p":"6.2 kbar","x":55.4,"y":9.1e-7},{"g":"c","p":"6.2 kbar","x":58.8,"y":9.5e-7},{"g":"c","p":"6.2 kbar","x":62.4,"y":9.8e-7},{"g":"c","p":"6.2 kbar","x":66.5,"y":1.05e-6},{"g":"c","p":"6.2 kbar","x":71.3,"y":1.0e-6},{"g":"c","p":"6.2 kbar","x":76.9,"y":9.8e-7},{"g":"c","p":"6.2 kbar","x":83.2,"y":1.4e-6},{"g":"c","p":"6.2 kbar","x":90.8,"y":2.0e-6},{"g":"c","p":"6.2 kbar","x":99.4,"y":3.3e-6},
{"g":"c","p":"6.6 kbar","x":35.5,"y":1.53e-7},{"g":"c","p":"6.6 kbar","x":36.9,"y":1.53e-7},{"g":"c","p":"6.6 kbar","x":38.3,"y":1.53e-7},{"g":"c","p":"6.6 kbar","x":39.4,"y":1.65e-7},{"g":"c","p":"6.6 kbar","x":41.1,"y":1.78e-7},{"g":"c","p":"6.6 kbar","x":43.3,"y":2.2e-7},{"g":"c","p":"6.6 kbar","x":45.1,"y":2.8e-7},{"g":"c","p":"6.6 kbar","x":46.7,"y":3.4e-7},{"g":"c","p":"6.6 kbar","x":49.5,"y":4.4e-7},{"g":"c","p":"6.6 kbar","x":52.3,"y":4.7e-7},{"g":"c","p":"6.6 kbar","x":55.4,"y":7.0e-7},{"g":"c","p":"6.6 kbar","x":58.8,"y":8.7e-7},{"g":"c","p":"6.6 kbar","x":62.4,"y":7.8e-7},{"g":"c","p":"6.6 kbar","x":66.5,"y":8.3e-7},{"g":"c","p":"6.6 kbar","x":71.3,"y":1.05e-6},{"g":"c","p":"6.6 kbar","x":76.9,"y":8.5e-7},{"g":"c","p":"6.6 kbar","x":83.2,"y":1.05e-6},{"g":"c","p":"6.6 kbar","x":90.8,"y":9.2e-7},{"g":"c","p":"6.6 kbar","x":99.4,"y":1.2e-6},
{"g":"c","p":"7.1 kbar","x":47.6,"y":1.78e-7},{"g":"c","p":"7.1 kbar","x":50.1,"y":1.78e-7},{"g":"c","p":"7.1 kbar","x":52.3,"y":2.2e-7},{"g":"c","p":"7.1 kbar","x":55.4,"y":2.2e-7},{"g":"c","p":"7.1 kbar","x":58.8,"y":2.4e-7},{"g":"c","p":"7.1 kbar","x":62.4,"y":3.1e-7},{"g":"c","p":"7.1 kbar","x":66.5,"y":3.5e-7},{"g":"c","p":"7.1 kbar","x":71.3,"y":4.2e-7},{"g":"c","p":"7.1 kbar","x":76.9,"y":5.3e-7},{"g":"c","p":"7.1 kbar","x":83.2,"y":6.1e-7},{"g":"c","p":"7.1 kbar","x":90.2,"y":6.4e-7}
]},
"vconcat":[
{"width":535,"height":259,
 "layer":[
  {"data":{"name":"pts"},"transform":[{"filter":"datum.g=='a'"}],
   "mark":{"type":"point","filled":true,"size":100,"strokeWidth":2,"opacity":1},
   "encoding":{
    "x":{"field":"x","type":"quantitative","scale":{"domain":[10,100],"nice":false,"zero":false},"axis":{"orient":"bottom","values":[20,40,60,80,100],"tickSize":-7,"labels":false,"title":null}},
    "y":{"field":"y","type":"quantitative","scale":{"type":"log","domain":[0.1,22],"nice":false},"axis":{"orient":"left","values":[0.1,1,10],"format":"~g","tickSize":-8,"labelPadding":23,"title":"Δε₂","titleFontSize":28,"titlePadding":12,"minExtent":48,"maxExtent":48}},
    "shape":{"field":"p","type":"nominal","legend":null,"scale":{"domain":["p (10 K)","0 kbar","0.5 kbar","1.1 kbar","1.6 kbar","2.1 kbar","2.7 kbar","3.1 kbar","3.4 kbar","3.8 kbar","4.1 kbar","4.7 kbar","5.7 kbar","6.2 kbar","6.6 kbar","7.1 kbar"],"range":["M0,0","square","circle","triangle-up","triangle-down","diamond","triangle-left","triangle-right","M-1,0L-0.5,-0.87L0.5,-0.87L1,0L0.5,0.87L-0.5,0.87Z","M0,-1L0.235,-0.324L0.951,-0.309L0.38,0.124L0.588,0.809L0,0.4L-0.588,0.809L-0.38,0.124L-0.951,-0.309L-0.235,-0.324Z","M0,-1L0.951,-0.309L0.588,0.809L-0.588,0.809L-0.951,-0.309Z","circle","M-1,0L1,0M0,-1L0,1","M-0.8,-0.8L0.8,0.8M-0.8,0.8L0.8,-0.8","M-1,0L1,0M0,-1L0,1M-0.7,-0.7L0.7,0.7M-0.7,0.7L0.7,-0.7","M-0.7,0L0.7,0"]}},
    "stroke":{"field":"p","type":"nominal","legend":null,"scale":{"domain":["p (10 K)","0 kbar","0.5 kbar","1.1 kbar","1.6 kbar","2.1 kbar","2.7 kbar","3.1 kbar","3.4 kbar","3.8 kbar","4.1 kbar","4.7 kbar","5.7 kbar","6.2 kbar","6.6 kbar","7.1 kbar"],"range":["transparent","#4646f5","#3c50e8","#3369c2","#2b7c95","#1f8b6c","#17954c","#14a632","#0cae0c","#1fba1f","#40c81c","#62cc26","#8ad82a","#b2e42e","#d6ee38","#f8f82a"]}},
    "fill":{"field":"p","type":"nominal","legend":null,"scale":{"domain":["p (10 K)","0 kbar","0.5 kbar","1.1 kbar","1.6 kbar","2.1 kbar","2.7 kbar","3.1 kbar","3.4 kbar","3.8 kbar","4.1 kbar","4.7 kbar","5.7 kbar","6.2 kbar","6.6 kbar","7.1 kbar"],"range":["transparent","transparent","transparent","transparent","transparent","transparent","transparent","transparent","transparent","#1fba1f","transparent","#a6e678","transparent","transparent","transparent","transparent"]}}
   }},
  {"data":{"name":"lab"},"transform":[{"filter":"datum.g=='a'"}],"mark":{"type":"point","opacity":0},
   "encoding":{"x":{"field":"x","type":"quantitative","axis":{"orient":"bottom","values":[30,50,70,90],"tickSize":-4,"labels":false,"title":null}},
    "y":{"field":"y","type":"quantitative","axis":{"orient":"left","values":[0.2,0.3,0.4,0.5,0.6,0.7,0.8,0.9,2,3,4,5,6,7,8,9,20],"tickSize":-4,"labels":false,"title":null}}}},
  {"data":{"name":"lab"},"transform":[{"filter":"datum.g=='a'"}],"mark":{"type":"point","opacity":0},
   "encoding":{"x":{"field":"x","type":"quantitative","axis":{"orient":"top","values":[20,25,33.3333,50,66.6667,100],"tickSize":-9,"labelExpr":"format(1000/datum.value,'d')","labelPadding":19,"title":"T (K)","titleFontSize":25,"titlePadding":6}},
    "y":{"field":"y","type":"quantitative","axis":{"orient":"right","values":[0.1,1,10],"tickSize":-8,"labels":false,"title":null}}}},
  {"data":{"name":"lab"},"transform":[{"filter":"datum.g=='a'"}],"mark":{"type":"point","opacity":0},
   "encoding":{"x":{"field":"x","type":"quantitative","axis":{"orient":"top","values":[30,40,60,70,80,90],"tickSize":-5,"labels":false,"title":null}},
    "y":{"field":"y","type":"quantitative","axis":{"orient":"right","values":[0.2,0.3,0.4,0.5,0.6,0.7,0.8,0.9,2,3,4,5,6,7,8,9,20],"tickSize":-4,"labels":false,"title":null}}}},
  {"data":{"name":"lab"},"transform":[{"filter":"datum.g=='a'"}],"mark":{"type":"text","font":"Liberation Sans","fontSize":29,"color":"black"},
   "encoding":{"x":{"field":"x","type":"quantitative","axis":null},"y":{"field":"y","type":"quantitative","axis":null},"text":{"field":"t"}}}
 ],
 "resolve":{"axis":{"x":"independent","y":"independent"}}
},
{"width":535,"height":260,
 "layer":[
  {"data":{"name":"pts"},"transform":[{"filter":"datum.g=='b'"}],
   "mark":{"type":"point","filled":true,"size":100,"strokeWidth":2,"opacity":1},
   "encoding":{
    "x":{"field":"x","type":"quantitative","scale":{"domain":[10,100],"nice":false,"zero":false},"axis":{"orient":"bottom","values":[20,40,60,80,100],"tickSize":-7,"labels":false,"title":null}},
    "y":{"field":"y","type":"quantitative","scale":{"domain":[0.4,1.088],"nice":false,"zero":false},"axis":{"orient":"left","values":[0.4,0.5,0.6,0.7,0.8,0.9,1.0],"format":".1f","tickSize":-8,"labelPadding":23,"title":"1- α₂","titleFontSize":28,"titlePadding":12,"minExtent":48,"maxExtent":48}},
    "shape":{"field":"p","type":"nominal","legend":null,"scale":{"domain":["p (10 K)","0 kbar","0.5 kbar","1.1 kbar","1.6 kbar","2.1 kbar","2.7 kbar","3.1 kbar","3.4 kbar","3.8 kbar","4.1 kbar","4.7 kbar","5.7 kbar","6.2 kbar","6.6 kbar","7.1 kbar"],"range":["M0,0","square","circle","triangle-up","triangle-down","diamond","triangle-left","triangle-right","M-1,0L-0.5,-0.87L0.5,-0.87L1,0L0.5,0.87L-0.5,0.87Z","M0,-1L0.235,-0.324L0.951,-0.309L0.38,0.124L0.588,0.809L0,0.4L-0.588,0.809L-0.38,0.124L-0.951,-0.309L-0.235,-0.324Z","M0,-1L0.951,-0.309L0.588,0.809L-0.588,0.809L-0.951,-0.309Z","circle","M-1,0L1,0M0,-1L0,1","M-0.8,-0.8L0.8,0.8M-0.8,0.8L0.8,-0.8","M-1,0L1,0M0,-1L0,1M-0.7,-0.7L0.7,0.7M-0.7,0.7L0.7,-0.7","M-0.7,0L0.7,0"]}},
    "stroke":{"field":"p","type":"nominal","legend":null,"scale":{"domain":["p (10 K)","0 kbar","0.5 kbar","1.1 kbar","1.6 kbar","2.1 kbar","2.7 kbar","3.1 kbar","3.4 kbar","3.8 kbar","4.1 kbar","4.7 kbar","5.7 kbar","6.2 kbar","6.6 kbar","7.1 kbar"],"range":["transparent","#4646f5","#3c50e8","#3369c2","#2b7c95","#1f8b6c","#17954c","#14a632","#0cae0c","#1fba1f","#40c81c","#62cc26","#8ad82a","#b2e42e","#d6ee38","#f8f82a"]}},
    "fill":{"field":"p","type":"nominal","legend":null,"scale":{"domain":["p (10 K)","0 kbar","0.5 kbar","1.1 kbar","1.6 kbar","2.1 kbar","2.7 kbar","3.1 kbar","3.4 kbar","3.8 kbar","4.1 kbar","4.7 kbar","5.7 kbar","6.2 kbar","6.6 kbar","7.1 kbar"],"range":["transparent","transparent","transparent","transparent","transparent","transparent","transparent","transparent","transparent","#1fba1f","transparent","#a6e678","transparent","transparent","transparent","transparent"]}}
   }},
  {"data":{"name":"lab"},"transform":[{"filter":"datum.g=='b'"}],"mark":{"type":"point","opacity":0},
   "encoding":{"x":{"field":"x","type":"quantitative","axis":{"orient":"bottom","values":[30,50,70,90],"tickSize":-4,"labels":false,"title":null}},
    "y":{"field":"y","type":"quantitative","axis":null}}},
  {"data":{"name":"lab"},"transform":[{"filter":"datum.g=='b'"}],"mark":{"type":"point","opacity":0},
   "encoding":{"x":{"field":"x","type":"quantitative","axis":{"orient":"top","values":[20,40,60,80],"tickSize":-7,"labels":false,"title":null}},
    "y":{"field":"y","type":"quantitative","axis":{"orient":"right","values":[0.4,0.5,0.6,0.7,0.8,0.9,1.0],"tickSize":-8,"labels":false,"title":null}}}},
  {"data":{"name":"lab"},"transform":[{"filter":"datum.g=='b'"}],"mark":{"type":"point","opacity":0},
   "encoding":{"x":{"field":"x","type":"quantitative","axis":{"orient":"top","values":[30,50,70,90],"tickSize":-4,"labels":false,"title":null}},
    "y":{"field":"y","type":"quantitative","axis":null}}},
  {"data":{"name":"lab"},"transform":[{"filter":"datum.g=='b'"}],"mark":{"type":"text","font":"Liberation Sans","fontSize":29,"color":"black"},
   "encoding":{"x":{"field":"x","type":"quantitative","axis":null},"y":{"field":"y","type":"quantitative","axis":null},"text":{"field":"t"}}}
 ],
 "resolve":{"axis":{"x":"independent","y":"independent"}}
},
{"width":535,"height":387,
 "layer":[
  {"data":{"name":"pts"},"transform":[{"filter":"datum.g=='c'"}],
   "mark":{"type":"point","filled":true,"size":100,"strokeWidth":2,"opacity":1},
   "encoding":{
    "x":{"field":"x","type":"quantitative","scale":{"domain":[10,100],"nice":false,"zero":false},"axis":{"orient":"bottom","values":[20,40,60,80,100],"tickSize":-7,"labelPadding":18,"title":"1000/T (K⁻¹)","titleFontSize":30,"titlePadding":8}},
    "y":{"field":"y","type":"quantitative","scale":{"type":"log","domain":[7.6e-8,0.0005],"nice":false},"axis":{"orient":"left","values":[1e-7,1e-6,1e-5,0.0001],"labelExpr":"datum.value < 5e-7 ? '10⁻⁷' : datum.value < 5e-6 ? '10⁻⁶' : datum.value < 5e-5 ? '10⁻⁵' : '10⁻⁴'","tickSize":-8,"labelPadding":15,"title":"τ₂ (s)","titleFontSize":28,"titlePadding":12,"minExtent":48,"maxExtent":48}},
    "shape":{"field":"p","type":"nominal","scale":{"domain":["p (10 K)","0 kbar","0.5 kbar","1.1 kbar","1.6 kbar","2.1 kbar","2.7 kbar","3.1 kbar","3.4 kbar","3.8 kbar","4.1 kbar","4.7 kbar","5.7 kbar","6.2 kbar","6.6 kbar","7.1 kbar"],"range":["M0,0","square","circle","triangle-up","triangle-down","diamond","triangle-left","triangle-right","M-1,0L-0.5,-0.87L0.5,-0.87L1,0L0.5,0.87L-0.5,0.87Z","M0,-1L0.235,-0.324L0.951,-0.309L0.38,0.124L0.588,0.809L0,0.4L-0.588,0.809L-0.38,0.124L-0.951,-0.309L-0.235,-0.324Z","M0,-1L0.951,-0.309L0.588,0.809L-0.588,0.809L-0.951,-0.309Z","circle","M-1,0L1,0M0,-1L0,1","M-0.8,-0.8L0.8,0.8M-0.8,0.8L0.8,-0.8","M-1,0L1,0M0,-1L0,1M-0.7,-0.7L0.7,0.7M-0.7,0.7L0.7,-0.7","M-0.7,0L0.7,0"]},
      "legend":{"title":"κ-(BEDT-TTF)₂Ag₂(CN)₃","orient":"none","legendX":33,"legendY":15,"columns":2,"columnPadding":37,"rowPadding":2,"symbolSize":70,"symbolStrokeWidth":2,"labelFontSize":15,"labelFont":"Liberation Sans","titleFontSize":31,"titleFont":"Liberation Sans","titleFontWeight":"normal","titleColor":"black","labelColor":"black","labelOffset":12,"titlePadding":0,"titleLimit":600}},
    "stroke":{"field":"p","type":"nominal","scale":{"domain":["p (10 K)","0 kbar","0.5 kbar","1.1 kbar","1.6 kbar","2.1 kbar","2.7 kbar","3.1 kbar","3.4 kbar","3.8 kbar","4.1 kbar","4.7 kbar","5.7 kbar","6.2 kbar","6.6 kbar","7.1 kbar"],"range":["transparent","#4646f5","#3c50e8","#3369c2","#2b7c95","#1f8b6c","#17954c","#14a632","#0cae0c","#1fba1f","#40c81c","#62cc26","#8ad82a","#b2e42e","#d6ee38","#f8f82a"]},
      "legend":{"title":"κ-(BEDT-TTF)₂Ag₂(CN)₃","orient":"none","legendX":33,"legendY":15,"columns":2,"columnPadding":37,"rowPadding":2,"symbolSize":70,"symbolStrokeWidth":2,"labelFontSize":15,"labelFont":"Liberation Sans","titleFontSize":31,"titleFont":"Liberation Sans","titleFontWeight":"normal","titleColor":"black","labelColor":"black","labelOffset":12,"titlePadding":0,"titleLimit":600}},
    "fill":{"field":"p","type":"nominal","scale":{"domain":["p (10 K)","0 kbar","0.5 kbar","1.1 kbar","1.6 kbar","2.1 kbar","2.7 kbar","3.1 kbar","3.4 kbar","3.8 kbar","4.1 kbar","4.7 kbar","5.7 kbar","6.2 kbar","6.6 kbar","7.1 kbar"],"range":["transparent","transparent","transparent","transparent","transparent","transparent","transparent","transparent","transparent","#1fba1f","transparent","#a6e678","transparent","transparent","transparent","transparent"]},
      "legend":{"title":"κ-(BEDT-TTF)₂Ag₂(CN)₃","orient":"none","legendX":33,"legendY":15,"columns":2,"columnPadding":37,"rowPadding":2,"symbolSize":70,"symbolStrokeWidth":2,"labelFontSize":15,"labelFont":"Liberation Sans","titleFontSize":31,"titleFont":"Liberation Sans","titleFontWeight":"normal","titleColor":"black","labelColor":"black","labelOffset":12,"titlePadding":0,"titleLimit":600}}
   }},
  {"data":{"name":"lab"},"transform":[{"filter":"datum.g=='c'"}],"mark":{"type":"point","opacity":0},
   "encoding":{"x":{"field":"x","type":"quantitative","axis":{"orient":"bottom","values":[30,50,70,90],"tickSize":-4,"labels":false,"title":null}},
    "y":{"field":"y","type":"quantitative","axis":{"orient":"left","values":[8e-8,9e-8,2e-7,3e-7,4e-7,5e-7,6e-7,7e-7,8e-7,9e-7,2e-6,3e-6,4e-6,5e-6,6e-6,7e-6,8e-6,9e-6,2e-5,3e-5,4e-5,5e-5,6e-5,7e-5,8e-5,9e-5,0.0002,0.0003,0.0004],"tickSize":-4,"labels":false,"title":null}}}},
  {"data":{"name":"lab"},"transform":[{"filter":"datum.g=='c'"}],"mark":{"type":"point","opacity":0},
   "encoding":{"x":{"field":"x","type":"quantitative","axis":{"orient":"top","values":[20,40,60,80],"tickSize":-7,"labels":false,"title":null}},
    "y":{"field":"y","type":"quantitative","axis":{"orient":"right","values":[1e-7,1e-6,1e-5,0.0001],"tickSize":-8,"labels":false,"title":null}}}},
  {"data":{"name":"lab"},"transform":[{"filter":"datum.g=='c'"}],"mark":{"type":"point","opacity":0},
   "encoding":{"x":{"field":"x","type":"quantitative","axis":{"orient":"top","values":[30,50,70,90],"tickSize":-4,"labels":false,"title":null}},
    "y":{"field":"y","type":"quantitative","axis":{"orient":"right","values":[8e-8,9e-8,2e-7,3e-7,4e-7,5e-7,6e-7,7e-7,8e-7,9e-7,2e-6,3e-6,4e-6,5e-6,6e-6,7e-6,8e-6,9e-6,2e-5,3e-5,4e-5,5e-5,6e-5,7e-5,8e-5,9e-5,0.0002,0.0003,0.0004],"tickSize":-4,"labels":false,"title":null}}}},
  {"data":{"name":"lab"},"transform":[{"filter":"datum.g=='c'"}],"mark":{"type":"text","font":"Liberation Sans","fontSize":29,"color":"black"},
   "encoding":{"x":{"field":"x","type":"quantitative","axis":null},"y":{"field":"y","type":"quantitative","axis":null},"text":{"field":"t"}}}
 ],
 "resolve":{"axis":{"x":"independent","y":"independent"}}
}
],
"resolve":{"scale":{"x":"independent","y":"independent","shape":"independent","stroke":"independent","fill":"independent"},"legend":{"shape":"independent","stroke":"independent","fill":"independent"}},
"config":{
 "view":{"stroke":"black","strokeWidth":1.2},
 "font":"Liberation Sans",
 "axis":{"grid":false,"domain":false,"tickColor":"black","tickWidth":1,"labelFont":"Liberation Sans","titleFont":"Liberation Sans","labelFontSize":20,"labelColor":"black","titleColor":"black","titleFontWeight":"normal","labelFlush":false,"labelOverlap":false,"labelBound":false}
}
}
